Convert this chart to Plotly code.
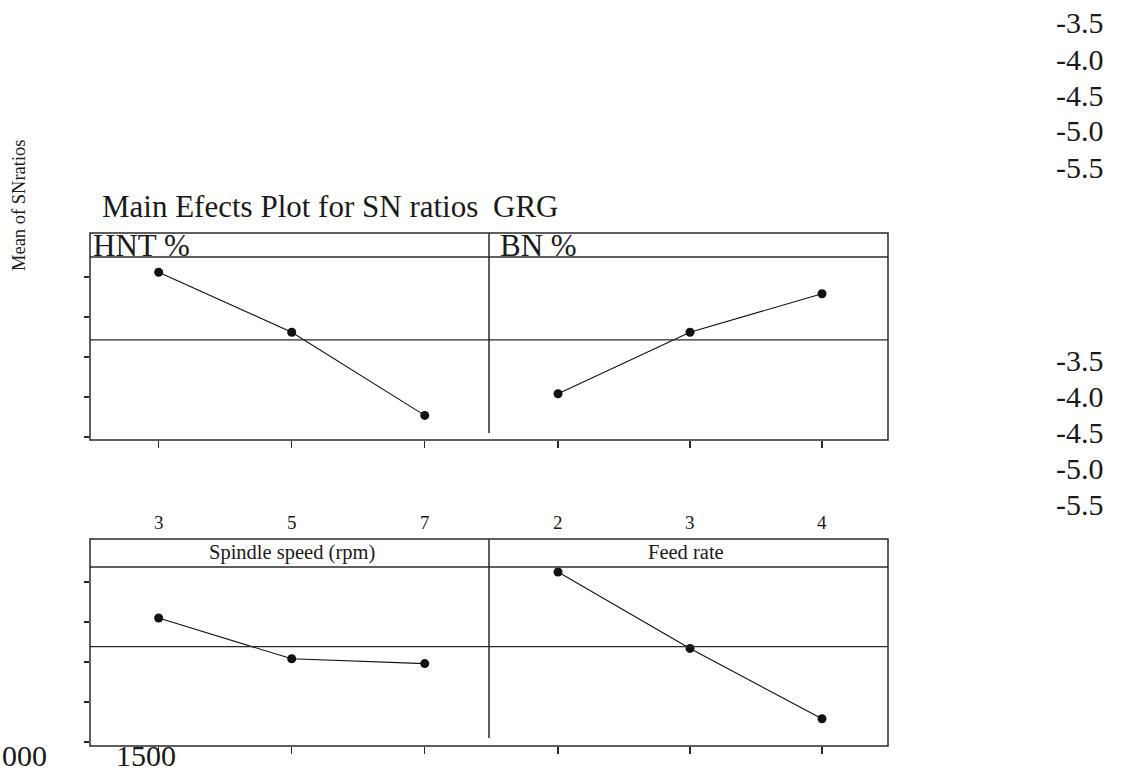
import plotly.graph_objects as go

W, H = 1123, 772

# ---------------- data ----------------
hnt_levels = ["3", "5", "7"]
hnt_sn = [-3.44, -4.19, -5.23]

bn_levels = ["2", "3", "4"]
bn_sn = [-4.96, -4.19, -3.71]

spindle_sn = [-3.95, -4.46, -4.52]
feed_sn = [-3.375, -4.33, -5.21]

y_ticks = [-3.5, -4.0, -4.5, -5.0, -5.5]
y_tick_text = ["-3.5", "-4.0", "-4.5", "-5.0", "-5.5"]
stray_x_labels = ["000", "1500"]

title_text = "Main Efects Plot for SN ratios"
title_suffix = "GRG"
y_title = "Mean of SNratios"
panel_titles = ["HNT %", "BN %", "Spindle speed (rpm)", "Feed rate"]

FONT = "Liberation Serif"
FRAME = "#2a2a2a"


def px(x):
    return x / W


def py(y):
    return 1 - y / H


idx = [0, 1, 2]

fig = go.Figure()

panels = [
    (hnt_sn, "x", "y"),
    (bn_sn, "x2", "y2"),
    (spindle_sn, "x3", "y3"),
    (feed_sn, "x4", "y4"),
]
for vals, xa, ya in panels:
    fig.add_trace(go.Scatter(
        x=idx, y=vals, xaxis=xa, yaxis=ya, mode="lines+markers",
        line=dict(color="#111111", width=1.1),
        marker=dict(color="#111111", size=9),
        showlegend=False, hoverinfo="skip"))

xr_left = [-0.516, 2.483]
xr_right = [-0.523, 2.5]
yr_top = [-5.5375, -3.25]
yr_bot = [-5.55, -3.3125]

common_x = dict(tickvals=idx, ticks="outside", ticklen=7, tickwidth=1.3,
                tickcolor=FRAME, showticklabels=False, showgrid=False,
                zeroline=False, showline=False, fixedrange=True)
common_y = dict(tickvals=y_ticks, ticks="outside", ticklen=5, tickwidth=1.3,
                tickcolor=FRAME, showticklabels=False, showgrid=False,
                zeroline=False, showline=False, fixedrange=True)
no_tick_y = dict(common_y, ticks="", tickvals=[])

fig.update_layout(
    width=W, height=H,
    margin=dict(l=0, r=0, t=0, b=0),
    paper_bgcolor="white", plot_bgcolor="rgba(0,0,0,0)",
    xaxis=dict(common_x, domain=[px(90), px(489)], range=xr_left, anchor="y"),
    yaxis=dict(common_y, domain=[py(440), py(257)], range=yr_top, anchor="x"),
    xaxis2=dict(common_x, domain=[px(489), px(888)], range=xr_right, anchor="y2"),
    yaxis2=dict(no_tick_y, domain=[py(440), py(257)], range=yr_top, anchor="x2"),
    xaxis3=dict(common_x, domain=[px(90), px(489)], range=xr_left, anchor="y3"),
    yaxis3=dict(common_y, domain=[py(746), py(567)], range=yr_bot, anchor="x3"),
    xaxis4=dict(common_x, domain=[px(489), px(888)], range=xr_right, anchor="y4"),
    yaxis4=dict(no_tick_y, domain=[py(746), py(567)], range=yr_bot, anchor="x4"),
)

shapes = []
line = dict(color=FRAME, width=1.5)
for top, hdr, bot, div_end in [(233, 257, 440, 433), (539, 567, 746, 738)]:
    shapes.append(dict(type="rect", xref="paper", yref="paper",
                       x0=px(90), x1=px(888), y0=py(bot), y1=py(top), line=line))
    shapes.append(dict(type="line", xref="paper", yref="paper",
                       x0=px(90), x1=px(888), y0=py(hdr), y1=py(hdr), line=line))
    shapes.append(dict(type="line", xref="paper", yref="paper",
                       x0=px(489), x1=px(489), y0=py(div_end), y1=py(top), line=line))

top_mean = sum(hnt_sn + bn_sn) / 6
bot_mean = sum(spindle_sn + feed_sn) / 6
shapes.append(dict(type="line", xref="paper", yref="y", x0=px(90), x1=px(888),
                   y0=top_mean, y1=top_mean, line=dict(color=FRAME, width=1.3)))
shapes.append(dict(type="line", xref="paper", yref="y3", x0=px(90), x1=px(888),
                   y0=bot_mean, y1=bot_mean, line=dict(color=FRAME, width=1.3)))
fig.update_layout(shapes=shapes)

ann = []
TXT = "#1a1a1a"


def text(t, x, y, size, xanchor="left", yanchor="middle", xref="paper", angle=0):
    ann.append(dict(text=t, x=x, y=py(y), xref=xref, yref="paper",
                    xanchor=xanchor, yanchor=yanchor, showarrow=False,
                    textangle=angle, font=dict(family=FONT, size=size, color=TXT)))


text(title_text, px(100), 206, 31)
text(title_suffix, px(491), 206, 31)
text(panel_titles[0], px(91), 245, 31)
text(panel_titles[1], px(498), 245, 31)
text(panel_titles[2], px(292), 552, 20.5, xanchor="center")
text(panel_titles[3], px(686), 552, 20.5, xanchor="center")
text(y_title, px(19), 205, 18.5, xanchor="center", angle=-90)

for i, lab in enumerate(hnt_levels):
    text(lab, i, 522, 19, xanchor="center", xref="x")
for i, lab in enumerate(bn_levels):
    text(lab, i, 522, 19, xanchor="center", xref="x2")

for k, lab in enumerate(y_tick_text):
    text(lab, px(1106), 23 + 36 * k, 30, xanchor="right")
    text(lab, px(1106), 360 + 36 * k, 30, xanchor="right")

text(stray_x_labels[0], px(0), 755, 30)
text(stray_x_labels[1], px(114), 755, 30)

fig.update_layout(annotations=ann)

fig.write_html(
    "out.html",
    config={"displayModeBar": False, "staticPlot": True},
    post_script="document.documentElement.style.margin='0';"
                "document.body.style.margin='0';"
                "document.body.style.overflow='hidden';",
)
